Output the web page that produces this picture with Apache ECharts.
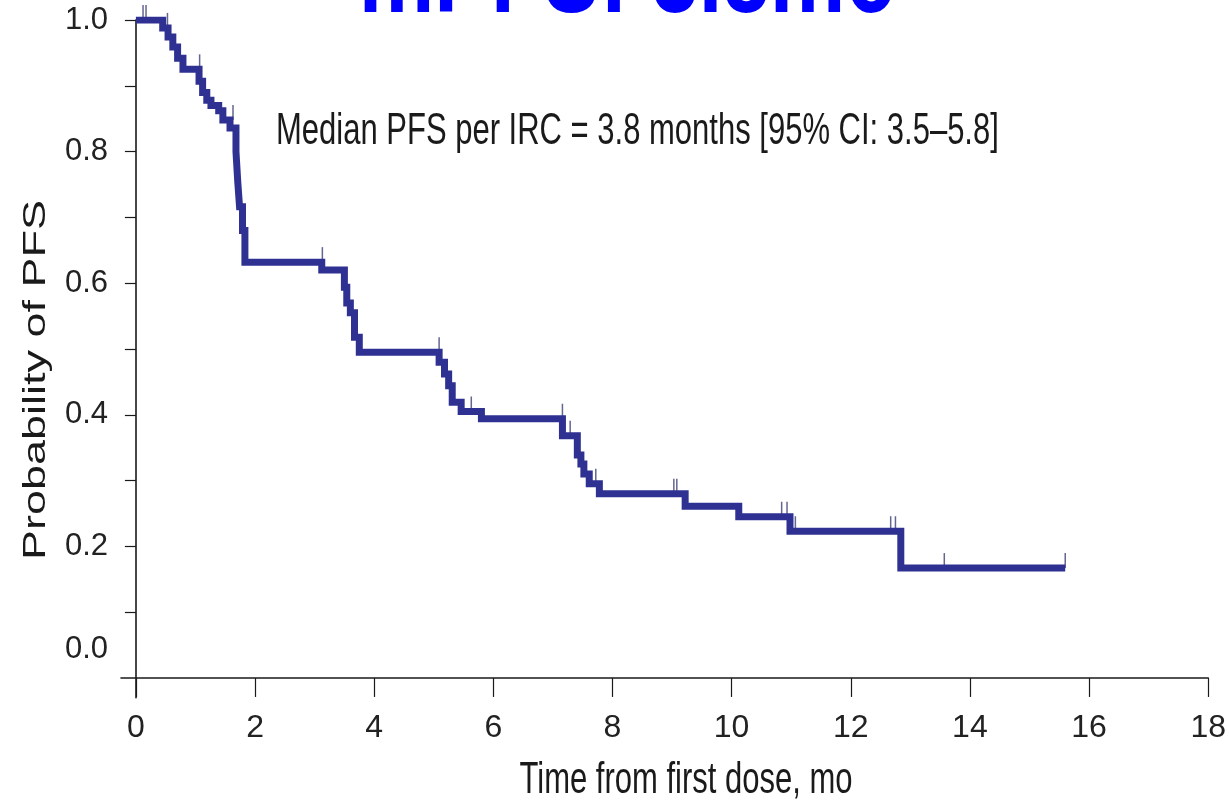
<!DOCTYPE html>
<html>
<head>
<meta charset="utf-8">
<script src="https://cdn.jsdelivr.net/npm/echarts@6/dist/echarts.min.js"></script>
<style>
html,body{margin:0;padding:0;background:#fff;}
#chart{width:1229px;height:806px;}
</style>
</head>
<body>
<div id="chart"></div>
<script>
// ---- data ----
const titleText = 'mPFS: 3.8mo';
const annotationText = 'Median PFS per IRC = 3.8 months [95% CI: 3.5–5.8]';
const xAxisTitle = 'Time from first dose, mo';
const yAxisTitle = 'Probability of PFS';

// Kaplan-Meier steps: survival value after each event time
const eventTimes = [0, 0.45, 0.54, 0.62, 0.70, 0.79, 1.06, 1.12, 1.19, 1.26, 1.39, 1.46, 1.58, 1.68, 1.71, 1.74, 1.79, 1.83,
  3.12, 3.50, 3.54, 3.60, 3.67, 3.75, 5.09, 5.18, 5.25, 5.31, 5.46, 5.80, 7.16, 7.41, 7.47, 7.52, 7.61, 7.78,
  9.22, 10.12, 10.98, 12.84, 15.6];
const survival = [1.0, 0.988, 0.974, 0.959, 0.942, 0.925, 0.907, 0.89, 0.878, 0.87, 0.862, 0.848, 0.836, 0.80, 0.754, 0.716, 0.68, 0.632,
  0.620, 0.594, 0.57, 0.555, 0.518, 0.495, 0.48, 0.462, 0.444, 0.419, 0.405, 0.394, 0.368, 0.339, 0.325, 0.31, 0.295, 0.28,
  0.261, 0.245, 0.223, 0.167, 0.167];

// censoring marks
const censorTimes = [0.12, 0.17, 0.53, 1.07, 1.63, 3.13, 5.09, 5.63, 7.16, 7.29, 7.72, 9.03, 9.08, 10.84, 10.93, 11.07, 12.67, 12.75, 13.57, 15.6];
const censorSurvival = [1.0, 1.0, 0.988, 0.925, 0.848, 0.632, 0.495, 0.405, 0.394, 0.368, 0.295, 0.28, 0.28, 0.245, 0.245, 0.223, 0.223, 0.223, 0.167, 0.167];

const xTickValues = [0, 2, 4, 6, 8, 10, 12, 14, 16, 18];
const yLabelValues = [0, 0.2, 0.4, 0.6, 0.8, 1.0];
const yTickValues = [0.1, 0.2, 0.3, 0.4, 0.5, 0.6, 0.7, 0.8, 0.9, 1.0];

// ---- chart ----
const NARROW = '"Liberation Sans Narrow", "Arial Narrow", "Liberation Sans", Arial, sans-serif';
const SANS = '"Liberation Sans", Arial, sans-serif';
const curveColor = '#2e3192';
const axisColor = '#1a1a1a';
const STRETCH = 1.45;

const kmData = eventTimes.map((t, i) => [t, survival[i]]);
const censorData = censorTimes.map((t, i) => [t, censorSurvival[i]]);

const chart = echarts.init(document.getElementById('chart'));
chart.setOption({
  animation: false,
  backgroundColor: '#ffffff',
  grid: { left: 121, right: 19, top: 20, bottom: 108.3, containLabel: false },
  xAxis: {
    type: 'value', min: -0.25, max: 18,
    axisLine: { onZero: true, lineStyle: { color: axisColor, width: 1.6 } },
    axisTick: { customValues: xTickValues, length: 19, lineStyle: { color: axisColor, width: 1.2 } },
    axisLabel: {
      customValues: xTickValues, margin: 14,
      fontFamily: NARROW, fontSize: 32, color: '#222'
    },
    splitLine: { show: false }
  },
  yAxis: {
    type: 'value', min: -0.03, max: 1.0,
    axisLine: { onZero: true, lineStyle: { color: axisColor, width: 1.6 } },
    axisTick: { customValues: yTickValues, length: 11, lineStyle: { color: axisColor, width: 1.2 } },
    axisLabel: {
      customValues: yLabelValues, margin: 13,
      fontFamily: NARROW, fontSize: 31, color: '#222',
      formatter: v => Math.abs(v) < 1e-9 ? '{z|0.0}' : '{n|' + v.toFixed(1) + '}',
      rich: {
        n: { fontFamily: NARROW, fontSize: 31, color: '#222' },
        z: { fontFamily: NARROW, fontSize: 31, color: '#222', padding: [0, 0, 58, 0] }
      }
    },
    splitLine: { show: false }
  },
  series: [
    {
      type: 'scatter', name: 'censored', data: censorData, z: 1,
      symbol: 'rect', symbolSize: [1.5, 15], symbolOffset: [0, -7.5],
      itemStyle: { color: '#3c4075' }, silent: true
    },
    {
      type: 'line', name: 'PFS', data: kmData, step: 'end', z: 3,
      symbol: 'none', showSymbol: false,
      lineStyle: { color: curveColor, width: 7, cap: 'butt', join: 'miter' }
    }
  ],
  graphic: [
    {
      type: 'text', x: 628, y: -22, scaleY: STRETCH, z: 10,
      style: { text: titleText, fontFamily: SANS, fontSize: 85, fontWeight: 'bold', fill: '#0000ff',
        textAlign: 'center', align: 'center', textVerticalAlign: 'middle', verticalAlign: 'middle' }
    },
    {
      type: 'text', x: 276, y: 131.4, scaleY: STRETCH, z: 10,
      style: { text: annotationText, fontFamily: SANS, fontSize: 31, fill: '#1a1a1a',
        textAlign: 'left', align: 'left', textVerticalAlign: 'middle', verticalAlign: 'middle' }
    },
    {
      type: 'text', x: 686, y: 781, scaleY: STRETCH, z: 10,
      style: { text: xAxisTitle, fontFamily: SANS, fontSize: 31, fill: '#1a1a1a',
        textAlign: 'center', align: 'center', textVerticalAlign: 'middle', verticalAlign: 'middle' }
    },
    {
      type: 'text', x: 36, y: 380, rotation: Math.PI / 2, scaleX: STRETCH, z: 10,
      style: { text: yAxisTitle, fontFamily: SANS, fontSize: 31, fill: '#1a1a1a',
        textAlign: 'center', align: 'center', textVerticalAlign: 'middle', verticalAlign: 'middle' }
    }
  ]
});
</script>
</body>
</html>
